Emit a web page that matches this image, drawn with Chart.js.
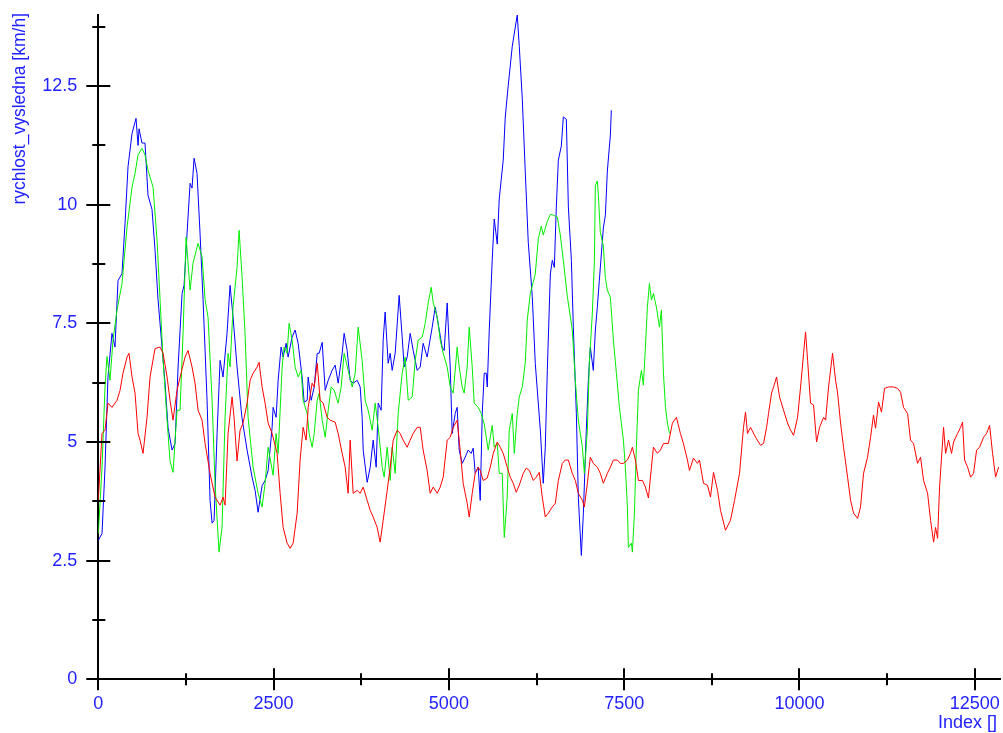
<!DOCTYPE html>
<html>
<head>
<meta charset="utf-8">
<script src="https://cdn.jsdelivr.net/npm/chart.js@4.4.1/dist/chart.umd.min.js"></script>
<style>
  html, body { margin: 0; padding: 0; background: #fff; }
  #wrap { width: 1003px; height: 733px; }
</style>
</head>
<body>
<div id="wrap"><canvas id="chart" width="1003" height="733"></canvas></div>
<script>
/* Axis setup */
const xMax = 12860;
const yMax = 14;
const xMajorTicks = [0, 2500, 5000, 7500, 10000, 12500];
const yMajorTicks = [0, 2.5, 5, 7.5, 10, 12.5];
const xTitle = 'Index []';
const yTitle = 'rychlost_vysledna [km/h]';

/* Blue series */
const blueX = [0,53,96,138,195,238,281,338,381,424,481,538,567,581,623,666,709,766,809,852,909,952,995,1052,1095,1138,1195,1223,1266,1309,1337,1366,1408,1451,1494,1551,1594,1623,1651,1694,1737,1779,1836,1879,1922,1979,2048,2122,2193,2236,2279,2336,2379,2422,2479,2493,2536,2565,2607,2636,2679,2707,2764,2807,2850,2907,2936,2979,2993,3036,3079,3122,3150,3193,3236,3279,3335,3378,3421,3478,3506,3549,3592,3635,3692,3735,3763,3778,3835,3878,3920,3963,3992,4034,4063,4091,4134,4163,4191,4234,4291,4334,4362,4405,4448,4491,4548,4591,4633,4690,4762,4805,4847,4904,4933,4976,5019,5047,5090,5118,5147,5190,5233,5275,5318,5347,5375,5418,5447,5476,5504,5533,5547,5576,5618,5647,5690,5718,5775,5804,5847,5904,5975,6004,6047,6089,6132,6189,6232,6304,6346,6375,6404,6447,6475,6504,6532,6561,6604,6632,6675,6704,6747,6775,6818,6846,6889,6918,6960,6989,7017,7060,7089,7117,7146,7203,7232,7260,7303,7317];
const blueY = [2.93,3.07,4.47,6.37,7.29,7.0,8.4,8.55,9.6,10.8,11.5,11.82,11.25,11.6,11.3,11.3,10.2,9.9,9.05,8.0,7.0,6.24,5.3,4.83,4.97,6.58,8.13,8.3,9.4,10.45,10.35,10.98,10.66,9.4,8.0,5.88,3.77,3.29,3.35,5.18,6.72,6.37,7.29,8.3,7.63,6.58,5.52,4.83,4.26,3.98,3.52,4.08,4.19,4.4,5.31,5.73,5.52,6.3,7.0,6.79,7.08,6.79,7.21,7.36,7.08,6.37,5.84,5.88,6.37,5.88,6.16,6.87,6.87,7.1,6.09,6.3,6.51,6.62,6.24,6.87,7.29,6.93,6.3,6.24,6.3,6.16,5.52,4.83,4.15,4.47,5.04,4.47,5.82,5.67,7.15,7.74,6.66,6.87,6.51,6.87,8.09,7.21,6.58,6.79,7.29,6.93,6.51,6.58,7.08,6.79,7.42,7.84,7.5,7.0,6.93,7.93,6.58,5.18,5.6,5.73,4.83,4.55,4.68,4.83,4.76,4.87,4.34,4.47,3.77,5.6,6.45,6.45,6.16,7.36,8.83,9.7,9.17,10.12,10.94,11.85,12.52,13.34,14.0,13.34,12.23,10.71,9.21,8.07,6.66,5.25,4.13,4.89,6.51,8.54,8.83,8.68,9.95,10.94,11.24,11.85,11.8,9.95,8.83,7.42,5.6,3.84,2.61,3.5,5.25,6.3,7.0,6.51,7.36,7.84,8.41,9.51,9.78,10.71,11.47,11.99];

/* Green series */
const greenX = [0,53,96,124,167,210,267,338,410,481,524,567,623,666,709,781,838,881,924,981,1023,1066,1123,1166,1209,1252,1309,1351,1423,1480,1523,1565,1623,1665,1722,1765,1808,1851,1879,1922,1979,2008,2051,2093,2136,2208,2279,2336,2379,2422,2493,2536,2565,2622,2650,2693,2721,2764,2807,2850,2893,2921,2979,3007,3050,3079,3122,3150,3193,3236,3279,3321,3364,3421,3464,3506,3563,3621,3664,3706,3763,3806,3849,3906,3949,3992,4049,4077,4120,4163,4191,4234,4277,4334,4377,4420,4477,4520,4563,4620,4662,4705,4748,4777,4834,4876,4919,4976,5019,5062,5118,5147,5190,5218,5261,5290,5333,5361,5418,5461,5504,5561,5618,5647,5690,5718,5761,5790,5832,5861,5904,5933,5975,6004,6047,6089,6118,6161,6232,6275,6318,6346,6404,6447,6490,6547,6589,6632,6689,6760,6803,6846,6904,6932,6975,7003,7046,7075,7089,7117,7132,7160,7203,7232,7260,7303,7346,7389,7432,7489,7517,7546,7560,7603,7617,7646,7674,7703,7746,7774,7803,7831,7860,7889,7917,7960,8003,8031,8060,8089,8117,8146];
const greenY = [3.07,4.47,6.16,6.8,6.3,7.15,7.78,8.34,9.53,10.37,10.66,11.05,11.19,11.05,10.73,10.37,9.25,8.0,6.72,5.46,4.6,4.36,5.67,5.67,7.29,9.32,8.2,8.77,9.19,8.9,8.0,7.63,5.88,4.13,2.68,3.2,5.52,6.87,6.58,7.84,8.68,9.46,8.47,7.29,5.52,4.47,3.92,3.63,4.13,4.89,4.3,5.18,4.76,6.58,7.0,6.87,7.5,7.15,6.58,6.37,6.51,5.88,5.6,5.18,4.89,5.18,5.88,6.03,5.46,5.1,5.67,6.16,6.09,5.82,6.16,6.87,6.51,6.16,6.45,7.42,6.72,5.88,5.67,5.25,5.82,5.31,4.47,4.26,4.89,4.19,4.89,4.34,5.6,6.45,6.79,5.88,5.95,6.72,7.15,7.21,7.5,7.93,8.26,7.93,7.63,7.15,6.87,6.58,6.16,6.03,7.0,6.58,6.16,6.03,6.58,7.42,6.58,5.82,5.73,5.6,5.38,4.83,5.35,4.89,4.97,4.34,4.34,2.99,3.84,5.25,5.6,4.76,5.6,5.95,6.16,6.66,7.57,8.13,8.54,9.28,9.55,9.36,9.65,9.8,9.78,9.74,9.36,8.83,8.07,7.36,6.3,5.46,4.89,4.34,5.25,6.66,7.71,8.8,10.41,10.5,10.2,9.42,9.13,8.45,8.2,8.05,7.15,6.45,5.73,5.04,4.47,3.63,2.78,2.87,2.68,3.5,4.89,6.09,6.51,6.2,7.0,7.84,8.34,7.99,8.13,7.84,7.42,7.78,6.45,5.73,5.4,5.18];

/* Red series */
const redX = [0,53,96,138,195,267,310,352,410,438,481,524,567,595,638,695,738,809,881,924,981,1023,1066,1123,1180,1237,1280,1337,1380,1423,1480,1523,1594,1665,1737,1779,1808,1851,1908,1936,1979,2022,2065,2122,2165,2208,2265,2293,2336,2379,2422,2479,2550,2593,2636,2693,2736,2779,2836,2878,2921,2964,2993,3050,3079,3122,3164,3207,3264,3307,3378,3421,3478,3521,3563,3592,3635,3692,3735,3778,3835,3878,3920,3977,4020,4063,4120,4163,4206,4263,4305,4348,4405,4448,4491,4548,4591,4633,4690,4733,4776,4834,4876,4919,4976,5019,5062,5118,5161,5204,5261,5290,5333,5375,5418,5447,5490,5547,5590,5633,5690,5733,5775,5832,5875,5918,5961,6004,6061,6104,6147,6204,6246,6289,6332,6375,6418,6475,6518,6561,6618,6660,6704,6760,6803,6846,6904,6932,6975,7017,7060,7117,7160,7203,7260,7303,7346,7403,7446,7489,7546,7589,7617,7660,7703,7760,7803,7846,7889,7917,7974,8017,8060,8131,8188,8245,8302,8345,8402,8431,8488,8545,8574,8631,8688,8731,8774,8831,8874,8945,9016,9074,9145,9202,9231,9259,9302,9374,9445,9488,9531,9559,9602,9631,9673,9716,9773,9830,9873,9916,9973,10016,10059,10087,10116,10158,10201,10244,10287,10344,10373,10415,10472,10515,10544,10586,10629,10686,10729,10772,10829,10871,10914,10971,11014,11056,11085,11128,11170,11213,11270,11342,11399,11442,11484,11542,11584,11627,11684,11727,11770,11827,11870,11913,11941,11970,11998,12055,12084,12126,12169,12198,12255,12298,12326,12355,12398,12441,12483,12526,12569,12626,12669,12712,12754,12797,12840];
const redY = [3.77,5.18,5.25,5.82,5.73,5.88,6.09,6.45,6.79,6.87,6.37,6.03,5.18,5.04,4.76,5.52,6.37,6.97,7.0,6.87,6.37,5.88,5.46,6.09,6.45,6.79,6.93,6.58,6.24,5.67,5.46,4.97,4.34,3.84,3.67,3.84,3.67,5.18,5.95,5.52,4.6,5.25,5.4,5.82,6.3,6.45,6.58,6.68,6.16,5.82,5.4,5.18,4.76,3.92,3.2,2.87,2.76,2.87,3.5,4.62,5.31,5.04,5.73,6.24,6.16,6.66,5.88,5.82,5.52,5.46,5.42,5.18,4.76,4.47,3.92,5.04,3.92,3.98,3.92,4.05,3.77,3.56,3.42,3.2,2.89,3.35,3.98,4.47,5.04,5.25,5.18,5.04,4.89,5.04,5.18,5.31,5.31,4.83,4.4,3.92,4.05,3.92,4.05,4.26,5.04,5.1,5.31,5.46,4.83,4.13,3.71,3.42,3.92,4.34,4.47,4.4,4.19,4.24,4.47,4.76,5.0,4.89,4.76,4.47,4.26,4.13,3.94,4.09,4.34,4.45,4.4,4.19,4.26,4.36,3.84,3.42,3.5,3.63,3.71,4.19,4.55,4.62,4.62,4.34,4.19,3.92,3.77,3.63,4.13,4.68,4.55,4.47,4.34,4.13,4.34,4.47,4.62,4.62,4.55,4.55,4.62,4.76,4.89,4.62,4.19,4.19,4.05,3.82,4.47,4.89,4.76,4.83,4.97,4.97,5.4,5.52,5.18,4.97,4.62,4.4,4.66,4.55,4.62,4.13,4.09,3.84,4.36,3.98,3.56,3.14,3.35,3.77,4.34,5.31,5.63,5.18,5.31,5.1,4.93,4.97,5.31,5.6,6.03,6.16,6.37,5.95,5.67,5.4,5.25,5.14,5.52,6.16,6.87,7.32,6.72,5.82,5.78,5.0,5.31,5.52,5.46,6.16,6.87,6.3,6.03,5.4,4.89,4.26,3.77,3.5,3.39,3.63,4.34,4.68,5.1,5.57,5.29,5.84,5.63,6.13,6.16,6.16,6.13,6.05,5.73,5.6,5.04,4.97,4.55,4.68,4.19,3.92,3.35,2.89,3.2,2.97,4.05,5.31,4.76,5.04,4.76,5.0,5.18,5.31,5.42,4.62,4.47,4.26,4.34,4.83,4.89,5.1,5.18,5.35,4.76,4.26,4.47];

const labelColor = '#2222ff';
const fontFamily = '"Liberation Sans", Arial, sans-serif';

function pairs(xs, ys) { return xs.map((x, i) => ({ x: x, y: ys[i] })); }
function isMajor(v, list) { return list.some(m => Math.abs(m - v) < 1e-6); }

/* Tick marks that cross the axis lines, plus axis titles */
const axisDecor = {
  id: 'axisDecor',
  afterDraw(chart) {
    const ctx = chart.ctx;
    const xs = chart.scales.x, ys = chart.scales.y;
    const x0 = xs.left, y0 = ys.bottom;
    ctx.save();
    ctx.strokeStyle = '#000';
    ctx.lineWidth = 2;
    ctx.beginPath();
    for (let i = 0; i * 1.25 <= yMax; i++) {
      const v = i * 1.25;
      const py = Math.round(ys.getPixelForValue(v));
      const major = isMajor(v, yMajorTicks);
      ctx.moveTo(x0 - (major ? 12 : 6), py);
      ctx.lineTo(x0 + (major ? 12 : 7), py);
    }
    for (let v = 0; v <= xMax; v += 1250) {
      const px = Math.round(xs.getPixelForValue(v));
      const major = isMajor(v, xMajorTicks);
      ctx.moveTo(px, y0 - (major ? 11 : 6));
      ctx.lineTo(px, y0 + (major ? 11 : 6));
    }
    ctx.stroke();

    ctx.fillStyle = labelColor;
    ctx.textBaseline = 'middle';
    ctx.textAlign = 'right';
    ctx.font = '18px ' + fontFamily;
    ctx.fillText(xTitle, 997, 723);
    ctx.font = '17.5px ' + fontFamily;
    ctx.translate(20, 13);
    ctx.rotate(-Math.PI / 2);
    ctx.fillText(yTitle, 0, 0);
    ctx.restore();
  }
};

document.addEventListener('DOMContentLoaded', () => {
  new Chart(document.getElementById('chart'), {
    type: 'line',
    data: {
      datasets: [
        { label: 'red', data: pairs(redX, redY), borderColor: '#ff0000', borderWidth: 1 },
        { label: 'green', data: pairs(greenX, greenY), borderColor: '#00ee00', borderWidth: 1 },
        { label: 'blue', data: pairs(blueX, blueY), borderColor: '#0000ff', borderWidth: 1 }
      ]
    },
    options: {
      responsive: false,
      animation: false,
      elements: { point: { radius: 0 }, line: { tension: 0 } },
      layout: { padding: { top: 14.9, right: 3, left: 0, bottom: 0 } },
      plugins: { legend: { display: false }, tooltip: { enabled: false } },
      scales: {
        x: {
          type: 'linear', min: 0, max: xMax,
          afterBuildTicks: s => { s.ticks = xMajorTicks.map(v => ({ value: v })); },
          afterFit: s => { s.height = 53.7; s.paddingLeft = 0; s.paddingRight = 0; },
          grid: { display: false, drawTicks: false },
          border: { display: true, color: '#000', width: 2 },
          ticks: {
            padding: 14, maxRotation: 0, minRotation: 0, autoSkip: false,
            color: labelColor, font: { family: fontFamily, size: 18 },
            callback: v => String(v)
          }
        },
        y: {
          type: 'linear', min: 0, max: yMax,
          afterBuildTicks: s => { s.ticks = yMajorTicks.map(v => ({ value: v })); },
          afterFit: s => { s.width = 98.3; s.paddingTop = 0; s.paddingBottom = 0; },
          grid: { display: false, drawTicks: false },
          border: { display: true, color: '#000', width: 2 },
          ticks: {
            padding: 21, autoSkip: false,
            color: labelColor, font: { family: fontFamily, size: 18 },
            callback: v => String(v)
          }
        }
      }
    },
    plugins: [axisDecor]
  });
});
</script>
</body>
</html>
